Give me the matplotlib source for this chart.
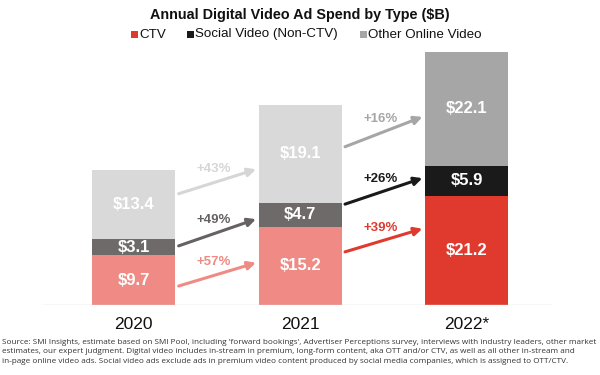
import matplotlib
matplotlib.use("Agg")
import matplotlib.pyplot as plt
from matplotlib.patches import Rectangle

years = ["2020", "2021", "2022*"]
ctv = [9.7, 15.2, 21.2]
social = [3.1, 4.7, 5.9]
other = [13.4, 19.1, 22.1]
growth_ctv = ["+57%", "+39%"]
growth_social = ["+49%", "+26%"]
growth_other = ["+43%", "+16%"]
series_names = ["CTV", "Social Video (Non-CTV)", "Other Online Video"]

# colours: (pale for past years, strong for forecast)
pale = {"ctv": "#ef8a84", "social": "#6e6a6a", "other": "#d9d9d9"}
strong = {"ctv": "#e03a2f", "social": "#1a1a1a", "other": "#a6a6a6"}
arrow_pale = {"ctv": "#ef8a84", "social": "#666262", "other": "#d6d6d6"}

plt.rcParams["font.family"] = ["Liberation Sans", "DejaVu Sans"]

fig = plt.figure(figsize=(6, 3.75), dpi=100)
ax = fig.add_axes([0.0717, 0.1867, 0.85, 0.6853])
ax.set_xlim(-0.545, 2.52)
ax.set_ylim(0, 50)
ax.axis("off")

bw = 0.5
xs = list(range(len(years)))
for i in xs:
    cols = strong if i == len(years) - 1 else pale
    b = 0
    for key, vals in (("ctv", ctv), ("social", social), ("other", other)):
        v = vals[i]
        ax.bar(i, v, bw, bottom=b, color=cols[key], linewidth=0)
        ax.text(i, b + v / 2, f"${v:.1f}", ha="center", va="center",
                color="white", fontsize=12, fontweight="bold")
        b += v

ax.axhline(0, color="#d9d9d9", lw=1, xmin=0, xmax=1)

# growth arrows: anchor fractions within segments (layout)
start_frac = {"ctv": [0.38, 0.68], "social": [0.58, 0.94], "other": [0.66, 0.57]}
end_frac = {"ctv": [0.54, 0.70], "social": [0.32, 0.59], "other": [0.34, 0.43]}
growth = {"ctv": growth_ctv, "social": growth_social, "other": growth_other}

def seg(key, i):
    if key == "ctv":
        return 0, ctv[i]
    if key == "social":
        return ctv[i], social[i]
    return ctv[i] + social[i], other[i]

for i in range(len(years) - 1):
    acols = arrow_pale if i == 0 else strong
    for key in ("ctv", "social", "other"):
        b0, h0 = seg(key, i)
        b1, h1 = seg(key, i + 1)
        y0 = b0 + start_frac[key][i] * h0
        y1 = b1 + end_frac[key][i] * h1
        x0 = i + bw / 2 + 0.02
        x1 = i + 1 - bw / 2 - 0.015
        ax.annotate("", xy=(x1, y1), xytext=(x0, y0),
                    arrowprops=dict(arrowstyle="-|>", color=acols[key], lw=2.2,
                                    mutation_scale=12, shrinkA=0, shrinkB=0))
        ax.text((x0 + x1) / 2 - 0.02, (y0 + y1) / 2 + 2.4, growth[key][i],
                ha="center", va="center", color=acols[key],
                fontsize=9.5, fontweight="bold")

for i, y in enumerate(years):
    ax.text(i, -3.7, y, ha="center", va="center", fontsize=12.5, color="#111111")

fig.text(0.5, 0.96, "Annual Digital Video Ad Spend by Type ($B)", ha="center",
         va="center", fontsize=10.4, fontweight="bold", color="#111111")

# legend
leg_x = [0.2183, 0.3117, 0.600]
for lx, name, key in zip(leg_x, series_names, ("ctv", "social", "other")):
    fig.patches.append(Rectangle((lx, 0.8987), 0.0117, 0.0187, transform=fig.transFigure,
                                 color=strong[key], linewidth=0))
    fig.text(lx + 0.0135, 0.908, name, ha="left", va="center", fontsize=9.6,
             color="#111111")

source = ("Source: SMI Insights, estimate based on SMI Pool, including 'forward bookings', Advertiser Perceptions survey, interviews with industry leaders, other market\n"
          "estimates, our expert judgment. Digital video includes in-stream in premium, long-form content, aka OTT and/or CTV, as well as all other in-stream and\n"
          "in-page online video ads. Social video ads exclude ads in premium video content produced by social media companies, which is assigned to OTT/CTV.")
fig.text(0.004, 0.062, source, ha="left", va="center", fontsize=5.85,
         family=["Open Sans", "DejaVu Sans"], color="#333333", linespacing=1.55)

fig.savefig("out.png", dpi=100)
